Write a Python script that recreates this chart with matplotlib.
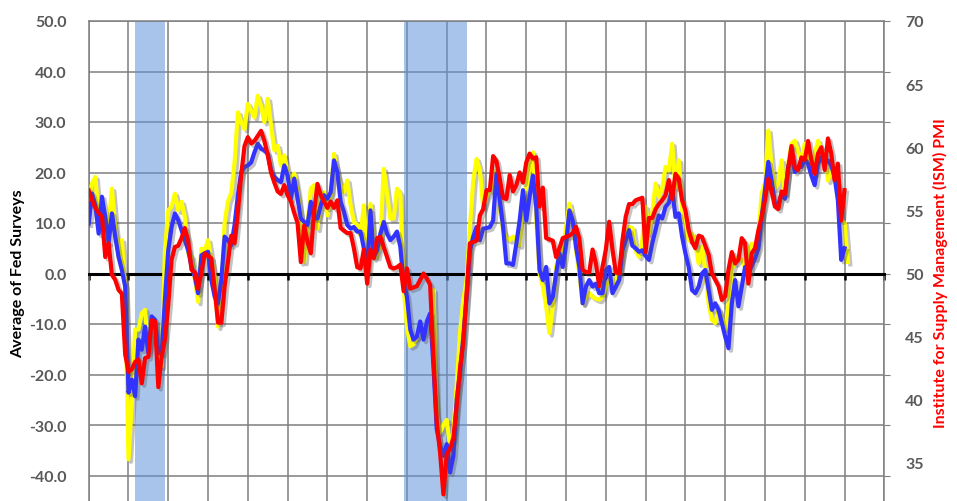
import numpy as np
import matplotlib
matplotlib.use("Agg")
import matplotlib.pyplot as plt
import matplotlib.patheffects as pe

# Monthly data, Jan 2000 onward (index = months since Jan 2000)
fed_empire_philly = [  # yellow, left axis
    14.5, 17.8, 19.1, 11.2, 9.9, 7.9, 9.2, 16.8, 9.2, 3.3, 6.6, -3.0,
    -36.8, -25.6, -11.1, -11.1, -7.9, -7.2, -15.1, -9.2, -11.5, -15.0, -18.4, 4.6,
    12.5, 13.2, 15.8, 12.5, 14.2, 11.2, 4.0, 3.3, -1.0, -5.6, 4.9, 4.6,
    6.6, 2.7, -0.6, -10.5, -4.6, 10.0, 14.2, 16.0, 22.0, 31.9, 30.0, 28.6,
    33.6, 32.3, 30.9, 35.2, 33.2, 30.0, 34.6, 29.3, 24.4, 25.3, 21.4, 23.4,
    20.1, 17.5, 19.8, 16.1, 10.9, 2.3, 9.6, 16.8, 17.5, 8.9, 14.8, 16.1,
    11.5, 15.5, 23.7, 19.4, 17.5, 16.1, 18.4, 13.5, 10.2, 9.6, 7.6, 13.5,
    4.0, 13.8, 4.6, 3.3, 6.6, 20.7, 15.8, 10.9, 10.9, 16.8, 15.8, -2.6,
    -10.5, -14.4, -14.0, -12.5, -11.0, -12.0, -9.8, -9.2, -3.3, -28.0, -31.5, -30.0,
    -29.0, -34.2, -31.5, -22.3, -11.8, -5.2, -1.3, 9.2, 18.4, 22.7, 20.4, 13.2,
    15.2, 16.5, 17.8, 20.4, 13.2, 8.6, 7.0, 6.6, 7.3, 6.0, 5.6, 15.2,
    17.0, 21.1, 24.0, 11.2, 0.0, -2.6, -6.5, -11.8, -6.5, 1.3, 4.0, 4.6,
    9.2, 13.8, 10.5, 4.6, 0.0, -5.9, -4.6, -3.9, -4.6, -5.0, -5.2, -4.6,
    -2.6, -1.3, -2.6, -1.3, 0.7, 4.0, 7.9, 9.2, 9.0, 4.5, 3.3, 6.6,
    13.2, 7.9, 11.9, 17.8, 15.2, 16.8, 21.1, 20.4, 25.7, 17.1, 22.4, 12.5,
    9.9, 6.6, 7.9, 5.9, 2.0, 5.3, 0.7, -5.9, -9.2, -9.8, -7.2, -9.0,
    -11.0, -6.0, 0.7, 2.7, 3.3, 2.7, 1.3, 4.6, 5.9, 3.0, 7.3, 15.8,
    17.8, 28.3, 21.1, 16.8, 17.8, 22.4, 15.8, 21.7, 25.7, 26.3, 24.0, 22.7,
    25.7, 23.4, 20.7, 23.5, 26.3, 24.4, 23.7, 18.4, 20.4, 19.8, 17.5, 10.5,
    10.0, 2.3,
]

fed_average = [  # blue, left axis
    9.9, 15.8, 13.5, 7.9, 15.2, 11.2, 6.0, 11.9, 7.3, 3.3, 0.7, -2.6,
    -23.6, -21.0, -24.3, -13.1, -15.1, -10.5, -15.7, -8.5, -9.2, -15.5, -16.0, -5.0,
    4.6, 9.2, 11.9, 10.6, 8.6, 6.6, 4.6, 1.4, -0.6, -3.9, 3.6, 4.0,
    4.3, -1.3, -4.6, -5.9, -1.3, 7.3, 6.6, 5.6, 9.6, 15.5, 20.1, 21.1,
    21.4, 22.0, 24.0, 25.7, 24.7, 24.4, 23.7, 20.4, 19.1, 18.5, 18.1, 21.4,
    19.4, 14.8, 18.8, 14.8, 10.9, 10.2, 9.6, 14.2, 10.9, 10.9, 13.5, 15.5,
    14.8, 16.1, 22.4, 20.1, 14.2, 12.2, 9.6, 8.9, 9.2, 8.3, 8.3, 5.0,
    0.7, 12.5, 3.3, 4.6, 7.9, 10.2, 7.9, 6.6, 7.3, 8.3, 5.3, -1.9,
    -4.6, -11.1, -13.1, -12.5, -9.5, -13.1, -9.5, -7.9, -18.4, -30.9, -34.2, -36.1,
    -33.8, -39.4, -36.1, -25.0, -19.7, -12.5, -4.6, 4.6, 7.3, 9.2, 6.6, 8.9,
    9.0, 9.2, 10.5, 19.8, 14.5, 9.2, 2.0, 2.0, 1.7, 5.9, 10.5, 16.5,
    10.5, 15.2, 19.4, 13.2, 0.7, -1.3, 1.3, -5.9, -4.6, 0.0, 4.0, 1.3,
    5.9, 12.5, 10.5, 5.3, 1.3, -5.9, -2.6, -1.3, -2.6, -2.0, -3.9, -3.9,
    0.7, 1.3, -3.9, -2.6, -1.3, 4.6, 6.6, 8.6, 5.5, 5.0, 4.3, 4.6,
    3.5, 2.7, 6.0, 8.6, 11.5, 10.9, 13.2, 14.0, 16.8, 11.2, 11.9, 7.3,
    4.0, 1.3, -3.3, -3.9, -2.6, 0.0, 0.7, -3.3, -7.2, -5.9, -7.2, -9.8,
    -12.5, -14.8, -5.9, -1.3, -6.5, -2.6, 1.3, 0.0, 1.5, 3.0, 5.0, 11.2,
    16.5, 22.1, 18.4, 13.8, 13.5, 15.8, 14.8, 21.1, 23.7, 20.1, 21.1, 21.1,
    22.7, 21.7, 19.4, 17.5, 21.7, 23.1, 22.4, 22.4, 21.4, 19.1, 14.5, 2.7,
    5.0,
]

ism_pmi = [  # red, right axis
    56.6, 55.8, 55.2, 54.8, 54.5, 51.3, 52.4, 49.9, 49.5, 48.7, 48.4, 43.6,
    42.2, 42.4, 43.0, 43.2, 41.3, 43.3, 43.4, 46.3, 46.2, 41.0, 43.4, 44.8,
    47.5, 51.1, 52.1, 52.2, 52.8, 53.6, 52.6, 50.3, 50.1, 48.8, 50.1, 51.6,
    51.4, 51.2, 48.7, 46.1, 46.1, 49.0, 50.9, 53.0, 52.4, 54.9, 57.8, 60.1,
    60.8, 60.3, 60.5, 60.9, 61.3, 60.5, 59.4, 58.0, 57.2, 56.5, 56.3, 57.0,
    56.2, 55.7, 54.8, 54.0, 50.9, 53.8, 52.5, 51.6, 54.9, 57.1, 56.2, 55.7,
    55.2, 55.7, 55.2, 55.8, 53.6, 53.4, 53.2, 53.2, 52.0, 50.5, 50.4, 51.9,
    49.2, 51.9, 51.2, 52.8, 52.9, 52.1, 51.3, 50.5, 50.4, 50.5, 50.7, 48.6,
    50.4, 48.8, 48.9, 49.0, 49.5, 50.0, 49.6, 49.1, 43.2, 38.2, 35.8, 32.5,
    35.7, 36.1, 37.0, 39.5, 42.5, 44.5, 48.4, 52.4, 52.5, 52.6, 54.6, 55.1,
    56.6, 56.6, 59.3, 58.9, 57.5, 56.0, 55.9, 57.8, 56.5, 57.0, 58.0, 57.2,
    58.8, 59.5, 59.1, 59.2, 55.3, 56.8, 52.8, 52.7, 52.6, 51.3, 52.0, 52.8,
    52.9, 53.0, 53.2, 53.7, 52.8, 50.3, 50.1, 50.1, 51.9, 50.8, 49.0, 50.5,
    51.9, 54.1, 51.9, 50.1, 50.0, 52.6, 54.5, 55.5, 55.5, 55.8, 55.9, 56.0,
    51.7, 54.4, 54.4, 55.1, 55.5, 55.8, 56.2, 57.4, 55.9, 57.9, 57.5, 55.8,
    55.0, 53.4, 52.5, 52.0, 53.0, 52.9, 52.2, 51.5, 50.0, 49.5, 49.0, 47.9,
    48.2, 50.3, 51.7, 50.8, 51.1, 52.8, 52.4, 49.2, 51.6, 52.0, 53.4, 54.5,
    55.8, 57.5, 56.5, 55.3, 55.1, 56.5, 56.3, 58.3, 60.1, 58.4, 58.2, 59.2,
    59.0, 60.5, 59.0, 57.9, 59.5, 60.0, 58.2, 60.7, 59.5, 57.4, 58.7, 54.2,
    56.6,
]

# Recessions, as month indices (start, end) since Jan 2000
recessions = [(14, 23), (95, 114)]

left_ticks = [-40, -30, -20, -10, 0, 10, 20, 30, 40, 50]
right_ticks = [35, 40, 45, 50, 55, 60, 65, 70]
year_grid = list(range(0, 241, 12))

plt.rcParams['font.family'] = ['Lato', 'DejaVu Sans']

W, H = 957, 502
fig = plt.figure(figsize=(W / 100, H / 100), dpi=100)
ax = fig.add_axes([88.7 / W, -25 / H, (884.3 - 88.7) / W, 505 / H])
ax2 = ax.twinx()

grid_c = '#7f7f7f'
for s, e in recessions:
    ax.axvspan(s, e, color=(99 / 255, 148 / 255, 217 / 255), alpha=0.55, zorder=1, lw=0)

ax.set_axisbelow(True)
ax.grid(True, color=grid_c, linewidth=1.1)

shadow = [pe.SimpleLineShadow(offset=(1.8, -1.8), shadow_color='#555555', alpha=0.35),
          pe.Normal()]
lw = 3.0
ax.plot(np.arange(len(fed_empire_philly)), fed_empire_philly, color='#ffff00', lw=lw,
        zorder=3, solid_joinstyle='round', path_effects=shadow)
ax.plot(np.arange(len(fed_average)), fed_average, color='#3333ff', lw=lw,
        zorder=4, solid_joinstyle='round', path_effects=shadow)
ax2.plot(np.arange(len(ism_pmi)), ism_pmi, color='#ff0000', lw=lw,
         zorder=5, solid_joinstyle='round', path_effects=shadow)

ax.set_xlim(0, 240)
ax.set_ylim(-50, 50)
ax2.set_ylim(30, 70)

ax.set_xticks(year_grid)
ax.set_xticklabels([])
ax.set_yticks(left_ticks)
ax.set_yticklabels([f"{v:.1f}" for v in left_ticks])
ax2.set_yticks(right_ticks)
ax2.set_yticklabels([str(v) for v in right_ticks])

tick_c = '#595959'
ax.tick_params(axis='y', left=False, right=True, length=4, color=grid_c,
               labelleft=True, labelright=False, labelsize=11.5, labelcolor=tick_c, pad=12)
ax.tick_params(axis='x', direction='out', length=4, width=1.8, color='black', bottom=True)
ax2.tick_params(axis='y', length=0, labelsize=11.5, labelcolor=tick_c, pad=15)
for lab in ax.get_yticklabels() + ax2.get_yticklabels():
    lab.set_fontweight('bold')

for sp in ['left', 'top', 'right']:
    ax.spines[sp].set_color(grid_c)
    ax.spines[sp].set_linewidth(1.1)
    ax2.spines[sp].set_visible(False)
ax2.spines['bottom'].set_visible(False)
ax.spines['bottom'].set_position(('data', 0))
ax.spines['bottom'].set_color('black')
ax.spines['bottom'].set_linewidth(2.2)
ax.spines['bottom'].set_zorder(2.6)

fig.text(18.5 / W, 1 - 274 / H, 'Average of Fed Surveys', rotation=90,
         ha='center', va='center', fontsize=11.5, fontweight='bold', color='black')
fig.text(940 / W, 1 - 273 / H, 'Institute for Supply Management (ISM) PMI', rotation=90,
         ha='center', va='center', fontsize=11.5, fontweight='bold', color='#ff0000')

fig.savefig('out.png', dpi=100)
